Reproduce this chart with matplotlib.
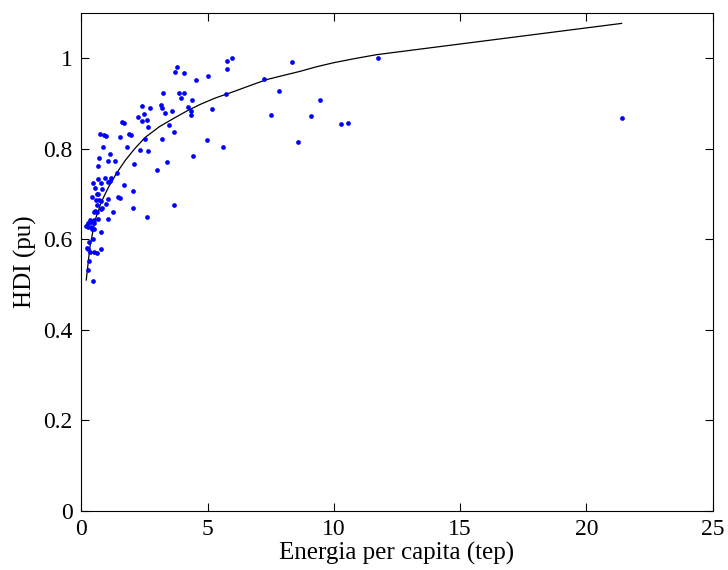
import matplotlib
matplotlib.use("Agg")
import matplotlib.pyplot as plt

# Scatter data: energy per capita (tep) vs HDI (pu)
energy = [5.957, 5.759, 5.785, 3.779, 3.727, 4.057, 4.545, 5.033, 3.238, 3.859,
          4.069, 3.938, 4.386, 3.159, 3.212, 3.581, 4.228, 4.360, 4.334, 3.304,
          2.420, 2.724, 2.499, 2.262, 2.605, 2.394, 1.602, 1.681, 2.631, 3.476,
          0.744, 0.916, 0.969, 1.906, 1.958, 1.536, 5.165, 5.719, 3.687, 3.212,
          2.512, 0.863, 1.800, 2.328, 2.645, 4.980, 5.600, 4.426, 0.692, 1.153,
          0.652, 1.074, 1.338, 2.077, 3.383, 2.987, 1.430, 0.955, 0.678, 1.166,
          1.127, 1.061, 0.454, 0.797, 0.546, 0.837, 1.708, 0.678, 0.626, 0.441,
          1.048, 1.470, 1.549, 2.064, 0.573, 0.705, 0.784, 0.626, 0.995, 0.810,
          0.797, 0.560, 0.520, 0.626, 1.272, 2.064, 3.661, 2.618, 1.061, 0.335,
          0.388, 0.494, 0.282, 0.665, 0.520, 0.190, 0.282, 0.375, 0.507, 0.414,
          0.771, 0.480, 0.296, 0.230, 0.256, 0.335, 0.507, 0.626, 0.797, 0.322,
          0.282, 0.467,
          8.333, 7.237, 7.819, 9.442, 7.502, 9.097, 10.285, 10.562, 11.750, 8.571,
          21.42]
hdi = [1.000, 0.9945, 0.977, 0.9815, 0.9705, 0.967, 0.951, 0.960, 0.924, 0.924,
       0.924, 0.9115, 0.907, 0.896, 0.891, 0.884, 0.893, 0.884, 0.874, 0.879,
       0.894, 0.891, 0.877, 0.871, 0.864, 0.861, 0.859, 0.856, 0.848, 0.853,
       0.8335, 0.831, 0.828, 0.833, 0.831, 0.826, 0.888, 0.921, 0.836, 0.821,
       0.822, 0.804, 0.805, 0.798, 0.795, 0.819, 0.803, 0.783, 0.780, 0.788,
       0.761, 0.772, 0.774, 0.766, 0.770, 0.752, 0.747, 0.736, 0.733, 0.736,
       0.729, 0.727, 0.725, 0.724, 0.713, 0.710, 0.719, 0.700, 0.700, 0.693,
       0.688, 0.694, 0.691, 0.706, 0.686, 0.687, 0.685, 0.675, 0.677, 0.669,
       0.666, 0.663, 0.661, 0.660, 0.660, 0.668, 0.676, 0.649, 0.645, 0.642,
       0.639, 0.643, 0.637, 0.645, 0.636, 0.630, 0.628, 0.627, 0.622, 0.622,
       0.615, 0.601, 0.593, 0.580, 0.579, 0.571, 0.571, 0.569, 0.579, 0.552,
       0.533, 0.508,
       0.992, 0.954, 0.928, 0.9085, 0.875, 0.872, 0.855, 0.857, 1.000, 0.815,
       0.868]

# Fitted curve
fit_x = [0.20, 0.35, 0.55, 0.80, 1.08, 1.40, 1.74, 2.10, 2.53, 3.10, 3.72, 4.20,
         4.71, 5.30, 6.02, 6.70, 7.35, 8.00, 8.66, 9.30, 9.98, 10.80, 11.70, 21.39]
fit_y = [0.51, 0.585, 0.642, 0.683, 0.715, 0.746, 0.774, 0.799, 0.825, 0.849,
         0.869, 0.884, 0.898, 0.912, 0.926, 0.940, 0.953, 0.962, 0.971, 0.981,
         0.990, 0.999, 1.008, 1.077]

plt.rcParams['font.family'] = ['Liberation Serif', 'DejaVu Serif']
plt.rcParams['mathtext.fontset'] = 'stix'

fig = plt.figure(figsize=(7.28, 5.70), dpi=100)
ax = fig.add_axes([81.2 / 728, 1 - 510.8 / 570, (712.8 - 81.2) / 728, (510.8 - 13.0) / 570])

ax.plot(energy, hdi, 'o', color='#0000ff', markersize=3.4, markeredgewidth=0, zorder=3)
ax.plot(fit_x, fit_y, '-', color='black', linewidth=0.9, zorder=2)

ax.set_xlim(0, 25)
ax.set_ylim(0, 1.1)
ax.set_xticks([0, 5, 10, 15, 20, 25])
ax.set_xticklabels(['0', '5', '10', '15', '20', '25'])
ax.set_yticks([0, 0.2, 0.4, 0.6, 0.8, 1.0])
ax.set_yticklabels(['0', '0.2', '0.4', '0.6', '0.8', '1'])
ax.tick_params(direction='in', length=6, width=0.8, top=True, right=True,
               labelsize=17, pad=6)
for s in ax.spines.values():
    s.set_linewidth(0.8)

ax.set_xlabel('Energia per capita (tep)', fontsize=18, labelpad=1)
ax.set_ylabel('HDI (pu)', fontsize=18, labelpad=5)

fig.savefig('out.png', dpi=100)
